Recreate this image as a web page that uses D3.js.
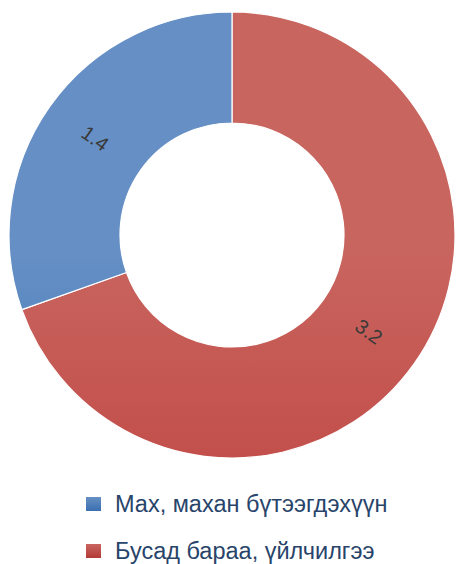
<!DOCTYPE html>
<html>
<head>
<meta charset="utf-8">
<script src="https://cdn.jsdelivr.net/npm/d3@7"></script>
<style>
  body { margin: 0; background: #fff; }
  svg { display: block; }
</style>
</head>
<body>
<svg width="456" height="564"></svg>
<script>
// categories and values
const categories = ['Бусад бараа, үйлчилгээ', 'Мах, махан бүтээгдэхүүн'];
const values = [3.2, 1.4];
const legendOrder = ['Мах, махан бүтээгдэхүүн', 'Бусад бараа, үйлчилгээ'];
const colorsTop = ['#c9655f', '#6690c5'];
const colorsMid = ['#c24e4a', '#467abb'];
const colorsBottom = ['#b33a36', '#3b6fb0'];

const svg = d3.select('svg');
const cx = 232, cy = 235;
const outerR = 223, innerR = 112;

const data = categories.map((c, i) => ({ name: c, value: values[i], i }));

// vertical gradients, lighter at the top
const defs = svg.append('defs');
data.forEach(d => {
    const g = defs.append('linearGradient')
        .attr('id', 'grad' + d.i)
        .attr('gradientUnits', 'userSpaceOnUse')
        .attr('x1', 0).attr('y1', cy - outerR)
        .attr('x2', 0).attr('y2', cy + outerR);
    g.append('stop').attr('offset', '0%').attr('stop-color', colorsTop[d.i]);
    g.append('stop').attr('offset', '50%').attr('stop-color', colorsMid[d.i]);
    g.append('stop').attr('offset', '100%').attr('stop-color', colorsBottom[d.i]);
});

const pie = d3.pie().sort(null).value(d => d.value);
const arc = d3.arc().innerRadius(innerR).outerRadius(outerR);

const chart = svg.append('g').attr('transform', `translate(${cx},${cy})`);

const arcs = pie(data);

chart.selectAll('path.slice')
    .data(arcs)
    .enter().append('path')
    .attr('class', 'slice')
    .attr('d', arc)
    .attr('fill', d => `url(#grad${d.data.i})`)
    .attr('stroke', '#fff')
    .attr('stroke-width', 1.2);

// value labels, rotated along the radius
chart.selectAll('text.val')
    .data(arcs)
    .enter().append('text')
    .attr('class', 'val')
    .attr('transform', d => {
        const [x, y] = arc.centroid(d);
        let a = (d.startAngle + d.endAngle) / 2 * 180 / Math.PI - 90;
        if (a > 90) a -= 180;
        return `translate(${x},${y}) rotate(${a})`;
    })
    .attr('text-anchor', 'middle')
    .attr('dy', '0.35em')
    .style('font-family', '"Liberation Sans", Arial, sans-serif')
    .style('font-size', '20px')
    .attr('fill', '#3a3a3a')
    .text(d => d.data.value);

// legend
const legend = svg.append('g').attr('class', 'legend');
const rowY = d3.scalePoint().domain(legendOrder).range([504, 551]);

legendOrder.forEach(name => {
    const i = categories.indexOf(name);
    const y = rowY(name);
    const lg = defs.append('linearGradient')
        .attr('id', 'legGrad' + i)
        .attr('x1', 0).attr('y1', 0).attr('x2', 0).attr('y2', 1);
    lg.append('stop').attr('offset', '0%').attr('stop-color', colorsTop[i]);
    lg.append('stop').attr('offset', '100%').attr('stop-color', colorsBottom[i]);
    legend.append('rect')
        .attr('x', 86).attr('y', y - 7)
        .attr('width', 15).attr('height', 14)
        .attr('fill', `url(#legGrad${i})`);
    legend.append('text')
        .attr('x', 115).attr('y', y)
        .attr('dy', '0.35em')
        .style('font-family', '"Liberation Sans", Arial, sans-serif')
        .style('font-size', '23.5px')
        .attr('fill', '#28446a')
        .text(name);
});
</script>
</body>
</html>
